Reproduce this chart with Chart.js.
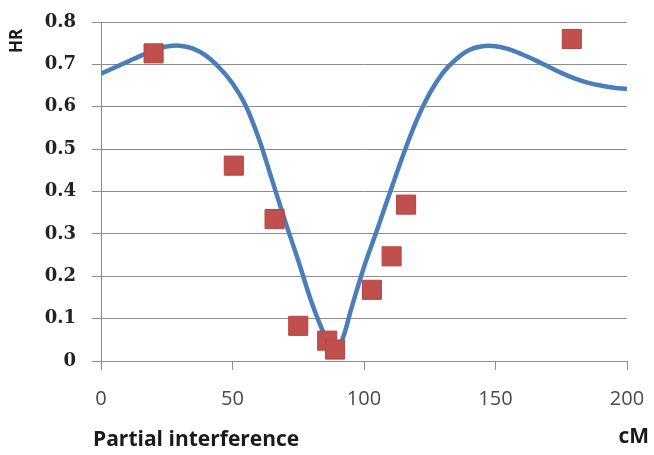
<!DOCTYPE html>
<html>
<head>
<meta charset="utf-8">
<script src="https://cdn.jsdelivr.net/npm/chart.js@4/dist/chart.umd.min.js"></script>
<style>
  body { margin: 0; background: #fff; }
  #wrap { width: 654px; height: 455px; }
</style>
</head>
<body>
<div id="wrap"><canvas id="hrChart" width="654" height="455"></canvas></div>
<script>
// curve (model HR vs cM)
const curveX  = [0, 5, 10, 15, 20, 25, 30, 35, 40, 45, 50, 55, 60, 65, 70, 75, 80, 85, 89, 92, 95, 100, 105, 110, 115, 120, 125, 130, 135, 140, 145, 150, 155, 160, 165, 170, 175, 180, 185, 190, 195, 200];
const curveHR = [0.678, 0.692, 0.706, 0.72, 0.733, 0.742, 0.744, 0.737, 0.72, 0.692, 0.655, 0.603, 0.525, 0.428, 0.33, 0.237, 0.14, 0.062, 0.022, 0.055, 0.12, 0.222, 0.31, 0.4, 0.488, 0.568, 0.632, 0.68, 0.712, 0.734, 0.743, 0.743, 0.736, 0.724, 0.71, 0.695, 0.68, 0.667, 0.657, 0.65, 0.645, 0.642];

// observed points
const pointX  = [20, 50.5, 66, 75, 86, 89, 103, 110.5, 116, 179];
const pointHR = [0.726, 0.461, 0.335, 0.083, 0.048, 0.027, 0.168, 0.247, 0.369, 0.76];

const xTicks = [0, 50, 100, 150, 200];
const yTicks = [0, 0.1, 0.2, 0.3, 0.4, 0.5, 0.6, 0.7, 0.8];

const gridGray = '#8c8c8c';

// axis captions outside the plot
const extraLabels = {
  id: 'extraLabels',
  afterDraw(chart) {
    const ctx = chart.ctx;
    const area = chart.chartArea;
    ctx.save();
    ctx.fillStyle = '#1a1a1a';
    ctx.textBaseline = 'middle';
    ctx.font = 'bold 21px "Open Sans", "DejaVu Sans", sans-serif';
    ctx.textAlign = 'left';
    ctx.fillText('Partial interference', area.left - 8, 440);
    ctx.textAlign = 'right';
    ctx.fillText('cM', 649, 437);

    ctx.translate(17, 41);
    ctx.rotate(-Math.PI / 2);
    ctx.textAlign = 'center';
    ctx.font = 'bold 17px "Open Sans", "DejaVu Sans", sans-serif';
    ctx.fillText('HR', 0, 0);
    ctx.restore();
  }
};

const ctx = document.getElementById('hrChart').getContext('2d');

new Chart(ctx, {
  type: 'scatter',
  data: {
    datasets: [
      {
        label: 'Observed',
        data: pointX.map((x, i) => ({ x, y: pointHR[i] })),
        pointStyle: 'rect',
        pointRadius: 13.5,
        pointHoverRadius: 13.5,
        backgroundColor: '#c0504d',
        borderColor: '#b9443f',
        borderWidth: 1,
        order: 0
      },
      {
        label: 'Model',
        type: 'line',
        data: curveX.map((x, i) => ({ x, y: curveHR[i] })),
        borderColor: '#4a7ebb',
        borderWidth: 4.5,
        pointRadius: 0,
        fill: false,
        tension: 0.35,
        order: 1
      }
    ]
  },
  options: {
    responsive: false,
    animation: false,
    layout: {
      padding: { top: 22, right: 27, bottom: 0, left: 0 }
    },
    plugins: {
      legend: { display: false },
      tooltip: { enabled: false }
    },
    scales: {
      x: {
        type: 'linear',
        min: 0,
        max: 200,
        afterBuildTicks: scale => { scale.ticks = xTicks.map(v => ({ value: v })); },
        afterFit: scale => {
          scale.height = 94;
          scale.paddingLeft = 0;
          scale.paddingRight = 0;
        },
        grid: {
          drawOnChartArea: false,
          drawTicks: true,
          tickLength: 9,
          color: gridGray
        },
        border: { display: true, color: gridGray, width: 1 },
        ticks: {
          padding: 17,
          color: '#4a4a4a',
          font: { family: '"Open Sans", sans-serif', size: 20 }
        }
      },
      y: {
        min: 0,
        max: 0.8,
        afterBuildTicks: scale => { scale.ticks = yTicks.map(v => ({ value: v })); },
        afterFit: scale => {
          scale.width = 101;
          scale.paddingTop = 0;
          scale.paddingBottom = 0;
        },
        grid: {
          color: gridGray,
          tickLength: 9,
          lineWidth: 1
        },
        border: { display: true, color: gridGray, width: 1 },
        ticks: {
          padding: 16,
          color: '#222',
          font: { family: '"DejaVu Serif", serif', size: 18, weight: 'bold' },
          callback: v => String(Math.round(v * 10) / 10)
        }
      }
    }
  },
  plugins: [extraLabels]
});
</script>
</body>
</html>
